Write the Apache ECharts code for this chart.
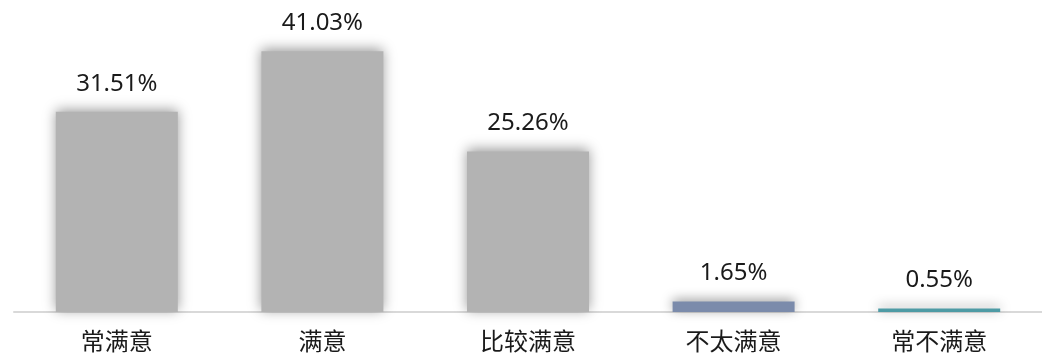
<!DOCTYPE html>
<html>
<head>
<meta charset="utf-8">
<script src="https://cdn.jsdelivr.net/npm/echarts@6/dist/echarts.min.js"></script>
<style>
  html, body { margin: 0; padding: 0; background: #ffffff; }
  #chart { width: 1042px; height: 355px; }
</style>
</head>
<body>
<div id="chart"></div>
<script>
// Satisfaction levels and share of responses (%)
const categories = ['常满意', '满意', '比较满意', '不太满意', '常不满意'];
const shares = [31.51, 41.03, 25.26, 1.65, 0.55];
const barColors = ['#b3b3b3', '#b3b3b3', '#b3b3b3', '#7b8bab', '#4e9ba5'];

const chart = echarts.init(document.getElementById('chart'));

chart.setOption({
  animation: false,
  backgroundColor: '#ffffff',
  grid: { left: 14, right: -2, top: 26, bottom: 43, containLabel: false },
  xAxis: {
    type: 'category',
    data: categories,
    axisLine: { show: true, lineStyle: { color: '#d9d9d9', width: 2 } },
    axisTick: { show: false },
    axisLabel: {
      margin: 17,
      fontSize: 24,
      color: '#1a1a1a',
      fontFamily: '"Noto Sans CJK SC", sans-serif'
    }
  },
  yAxis: {
    type: 'value',
    min: 0,
    max: 45,
    show: false,
    splitLine: { show: false }
  },
  series: [{
    type: 'bar',
    data: shares.map((v, i) => ({ value: v, itemStyle: { color: barColors[i] } })),
    barWidth: 122,
    itemStyle: {
      shadowBlur: 12,
      shadowColor: 'rgba(0,0,0,0.4)',
      shadowOffsetY: -2
    },
    label: {
      show: true,
      position: 'top',
      distance: 16,
      fontSize: 24,
      color: '#1a1a1a',
      fontFamily: '"Noto Sans", "Open Sans", sans-serif',
      formatter: p => p.value.toFixed(2) + '%'
    }
  }]
});
</script>
</body>
</html>
